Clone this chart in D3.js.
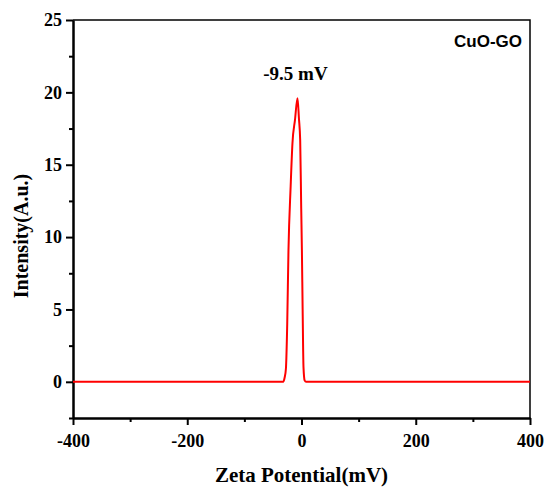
<!DOCTYPE html>
<head>
<meta charset="utf-8">
<title>Zeta Potential - CuO-GO</title>
<script src="https://d3js.org/d3.v7.min.js"></script>
<style>
body { margin: 0; background: #fff; }
svg { font-family: "Liberation Serif", "Times New Roman", serif; }
.axis path, .axis line { stroke: #000; stroke-width: 2; }
.line { fill: none; stroke: #ff0000; stroke-width: 2; }
</style>
</head>
<body>
<div id="chart"></div>
<script>

/* data */
var zeta = [-400, -32, -29.5, -27.3, -25, -22.8, -19, -15.8, -11.4, -7, -4.5, -2.3, -0.5, 0.7, 2, 3.5, 5.5, 8, 400];
var intensity = [0, 0, 0.3, 0.9, 4, 9.1, 13.5, 16.5, 18.1, 19.6, 18.2, 16.7, 12, 9.1, 5, 1, 0.1, 0, 0];
var xTicks = [-400, -200, 0, 200, 400];
var xMinor = [-300, -100, 100, 300];
var yTicks = [0, 5, 10, 15, 20, 25];
var yMinor = [-2.5, 2.5, 7.5, 12.5, 17.5, 22.5];
var peakLabel = "-9.5 mV";
var peakAt = -7;
var sampleName = "CuO-GO";

var width = 546;
var height = 491;
var mLeft = 73, mRight = 530, mTop = 20, mBottom = 418;
var serif = "'Liberation Serif', 'Times New Roman', serif";

var data = zeta.map((z, i) => ({z: z, v: intensity[i]}));

var svg = d3.select("#chart").append("svg")
  .attr("width", width)
  .attr("height", height);

/* Scale */
var xScale = d3.scaleLinear().domain([-400, 400]).range([mLeft, mRight]);
var yScale = d3.scaleLinear().domain([-2.5, 25]).range([mBottom, mTop]);

/* frame (top + right) */
svg.append("path")
  .attr("d", `M${mLeft},${mTop}H${mRight}V${mBottom}`)
  .attr("fill", "none")
  .attr("stroke", "#000")
  .attr("stroke-width", 1.5);

/* minor ticks */
svg.append("g")
  .attr("class", "axis")
  .attr("transform", `translate(0,${mBottom})`)
  .call(d3.axisBottom(xScale).tickValues(xMinor).tickSize(4).tickSizeOuter(0).tickFormat(""));
svg.append("g")
  .attr("class", "axis")
  .attr("transform", `translate(${mLeft},0)`)
  .call(d3.axisLeft(yScale).tickValues(yMinor).tickSize(4).tickSizeOuter(0).tickFormat(""));

/* main axes */
var gx = svg.append("g")
  .attr("class", "axis x")
  .attr("transform", `translate(0,${mBottom})`)
  .call(d3.axisBottom(xScale).tickValues(xTicks).tickSize(7).tickSizeOuter(0).tickPadding(9).tickFormat(d => String(d)));

var gy = svg.append("g")
  .attr("class", "axis y")
  .attr("transform", `translate(${mLeft},0)`)
  .call(d3.axisLeft(yScale).tickValues(yTicks).tickSize(7).tickSizeOuter(0).tickPadding(4).tickFormat(d => String(d)));

[gx, gy].forEach(g => {
  g.attr("font-family", serif).attr("font-size", 18);
  g.selectAll("text")
    .style("font-family", serif)
    .style("font-size", "18px")
    .style("font-weight", "bold")
    .attr("fill", "#000");
});

/* line */
var line = d3.line()
  .x(d => xScale(d.z))
  .y(d => yScale(d.v))
  .curve(d3.curveMonotoneX);

svg.append("path")
  .datum(data)
  .attr("class", "line")
  .attr("d", line);

/* labels */
svg.append("text")
  .attr("x", xScale(peakAt) - 2)
  .attr("y", 80)
  .attr("text-anchor", "middle")
  .style("font-size", "19px")
  .style("font-weight", "bold")
  .text(peakLabel);

svg.append("text")
  .attr("x", 522)
  .attr("y", 47)
  .attr("text-anchor", "end")
  .style("font-family", "'Liberation Sans', Arial, sans-serif")
  .style("font-size", "17px")
  .style("font-weight", "bold")
  .text(sampleName);

svg.append("text")
  .attr("x", (mLeft + mRight) / 2)
  .attr("y", 482)
  .attr("text-anchor", "middle")
  .style("font-size", "21px")
  .style("font-weight", "bold")
  .text("Zeta Potential(mV)");

svg.append("text")
  .attr("transform", "translate(28,236) rotate(-90)")
  .attr("text-anchor", "middle")
  .style("font-size", "20px")
  .style("font-weight", "bold")
  .text("Intensity(A.u.)");

</script>
</body>
</html>
